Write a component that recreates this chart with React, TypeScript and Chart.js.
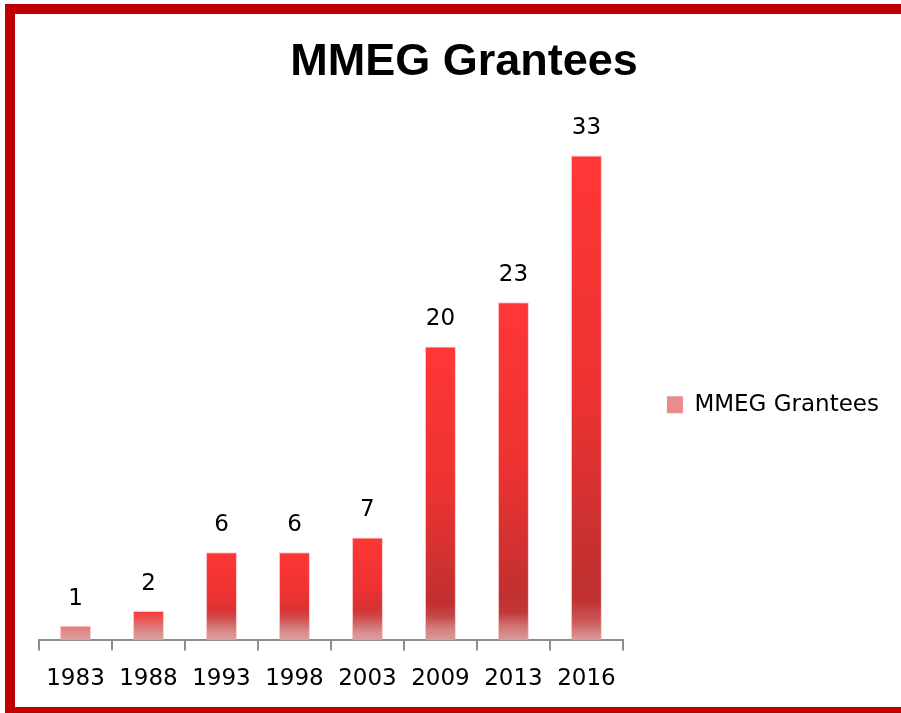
import React, { useEffect, useRef } from "react";
import { Chart, registerables } from "chart.js";

Chart.register(...registerables);

const chartTitle = "MMEG Grantees";
const seriesName = "MMEG Grantees";
const categories = ["1983", "1988", "1993", "1998", "2003", "2009", "2013", "2016"];
const grantees = [1, 2, 6, 6, 7, 20, 23, 33];
const yMax = 35;

const FONT = "'DejaVu Sans', Verdana, sans-serif";

function hexToRgb(h: string) {
  const n = parseInt(h.slice(1), 16);
  return [(n >> 16) & 255, (n >> 8) & 255, n & 255];
}
function lerp(a: number[], b: number[], t: number) {
  return a.map((v, i) => v + (b[i] - v) * t);
}
function rgb(c: number[]) {
  return `rgb(${Math.round(c[0])},${Math.round(c[1])},${Math.round(c[2])})`;
}
const TOP = hexToRgb("#ff3636");
const MID = hexToRgb("#ec3232");
const DARK = hexToRgb("#c03030");
const PINK = hexToRgb("#dc9c9c");

function bodyColor(t: number) {
  if (t < 0.5) return lerp(TOP, MID, t / 0.5);
  return lerp(MID, DARK, Math.min(1, (t - 0.5) / 0.38));
}

const framePlugin = {
  id: "frame",
  afterDraw(chart: any) {
    const c = chart.ctx;
    const w = chart.width;
    c.save();
    c.fillStyle = "#C00000";
    c.fillRect(5, 4, w, 10);
    c.fillRect(5, 4, 10, chart.height);
    c.fillRect(5, 707, w, 10);
    c.restore();
  },
};

const valueLabels = {
  id: "valueLabels",
  afterDatasetsDraw(chart: any) {
    const c = chart.ctx;
    const meta = chart.getDatasetMeta(0);
    c.save();
    c.font = `23px ${FONT}`;
    c.fillStyle = "#000";
    c.textAlign = "center";
    c.textBaseline = "middle";
    meta.data.forEach((el: any, i: number) => {
      c.fillText(String(grantees[i]), el.x, el.y - 27);
    });
    c.restore();
  },
};

export default function App() {
  const ref = useRef<HTMLCanvasElement | null>(null);
  useEffect(() => {
    if (!ref.current) return;
    const chart = new Chart(ref.current, {
      type: "bar",
      data: {
        labels: categories,
        datasets: [
          {
            label: seriesName,
            data: grantees,
            barPercentage: 0.425,
            categoryPercentage: 1,
            borderWidth: { top: 1, left: 1, right: 1, bottom: 0 },
            borderColor: "rgba(245,150,150,0.5)",
            backgroundColor: (ctx: any) => {
              const chart = ctx.chart;
              const { chartArea, scales } = chart;
              if (!chartArea || ctx.type !== "data" || !scales.y) return "#e84040";
              const yTop = scales.y.getPixelForValue(ctx.raw);
              const yBase = scales.y.getPixelForValue(0);
              const h = Math.max(1, yBase - yTop);
              const g = chart.ctx.createLinearGradient(0, yTop, 0, yBase);
              const F = 34;
              const N = 24;
              for (let k = 0; k <= N; k++) {
                const t = k / N;
                const d = h * (1 - t);
                let col = bodyColor(t);
                if (d < F) {
                  const s = d / F;
                  col = lerp(PINK, col, s * s * (3 - 2 * s));
                }
                g.addColorStop(t, rgb(col));
              }
              return g;
            },
          },
        ],
      },
      options: {
        animation: false,
        responsive: false,
        devicePixelRatio: 1,
        layout: { padding: { top: 0, bottom: 5, left: 39, right: 12 } },
        plugins: {
          title: {
            display: true,
            text: chartTitle,
            color: "#000",
            font: { family: "'Liberation Sans', Arial, sans-serif", size: 45, weight: "bold" },
            padding: { top: 36, bottom: 36 },
          },
          legend: {
            display: true,
            position: "right",
            fullSize: false,
            title: { display: true, text: " ", padding: 0, font: { size: 36 } },
            labels: {
              boxWidth: 16,
              boxHeight: 17,
              padding: 44,
              color: "#000",
              font: { family: FONT, size: 23 },
              generateLabels: (chart: any) => [
                {
                  text: chart.data.datasets[0].label,
                  fillStyle: "#ea8c8c",
                  strokeStyle: "rgba(0,0,0,0)",
                  fontColor: "#000",
                  lineWidth: 0,
                  hidden: false,
                  datasetIndex: 0,
                },
              ],
            },
          },
          tooltip: { enabled: false },
        },
        scales: {
          x: {
            grid: {
              display: true,
              offset: true,
              drawOnChartArea: false,
              drawTicks: true,
              tickLength: 10,
              color: "#8c8c8c",
              lineWidth: 2,
            },
            border: { display: true, color: "#8c8c8c", width: 2 },
            ticks: {
              color: "#000",
              padding: 15,
              maxRotation: 0,
              autoSkip: false,
              font: { family: FONT, size: 23 },
            },
          },
          y: {
            display: false,
            min: 0,
            max: yMax,
          },
        },
      },
      plugins: [valueLabels, framePlugin],
    } as any);
    return () => chart.destroy();
  }, []);
  return (
    <div style={{ position: "fixed", left: 0, top: 0, width: 901, height: 713, background: "#fff", overflow: "hidden" }}>
      <canvas ref={ref} width={901} height={713} style={{ display: "block", width: 901, height: 713 }} />
    </div>
  );
}
